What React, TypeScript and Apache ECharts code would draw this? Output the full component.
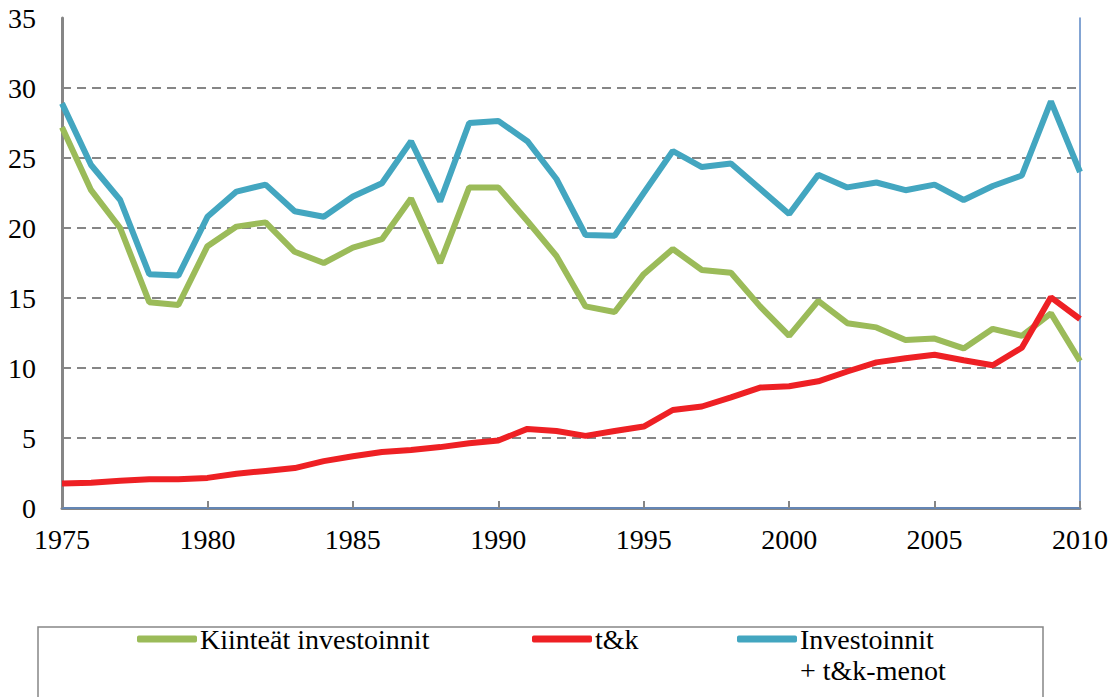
import React, { useEffect, useRef } from "react";
import * as echarts from "echarts";

const years = [
  "1975", "1976", "1977", "1978", "1979", "1980", "1981", "1982", "1983", "1984",
  "1985", "1986", "1987", "1988", "1989", "1990", "1991", "1992", "1993", "1994",
  "1995", "1996", "1997", "1998", "1999", "2000", "2001", "2002", "2003", "2004",
  "2005", "2006", "2007", "2008", "2009", "2010",
];

const kiinteat = [
  27.2, 22.7, 20.0, 14.7, 14.5, 18.7, 20.1, 20.4, 18.3, 17.5,
  18.6, 19.2, 22.1, 17.5, 22.9, 22.9, 20.5, 18.0, 14.4, 14.0,
  16.7, 18.5, 17.0, 16.8, 14.4, 12.3, 14.8, 13.2, 12.9, 12.0,
  12.1, 11.4, 12.8, 12.3, 13.9, 10.5,
];

const tk = [
  1.75, 1.8, 1.95, 2.05, 2.05, 2.15, 2.45, 2.65, 2.85, 3.35,
  3.7, 4.0, 4.15, 4.35, 4.62, 4.82, 5.65, 5.5, 5.15, 5.5,
  5.82, 7.0, 7.25, 7.9, 8.6, 8.7, 9.05, 9.75, 10.4, 10.7,
  10.95, 10.55, 10.2, 11.45, 15.05, 13.5,
];

const yhteensa = [
  28.9, 24.5, 22.0, 16.7, 16.6, 20.8, 22.6, 23.1, 21.2, 20.8,
  22.25, 23.2, 26.2, 21.9, 27.5, 27.65, 26.2, 23.5, 19.5, 19.45,
  22.5, 25.5, 24.35, 24.6, 22.8, 21.0, 23.8, 22.9, 23.25, 22.7,
  23.1, 22.0, 23.0, 23.75, 29.05, 24.0,
];

const names = ["Kiinteät investoinnit", "t&k", "Investoinnit + t&k-menot"];
const legendLine1 = ["Kiinteät investoinnit", "t&k", "Investoinnit"];
const legendLine2 = "+ t&k-menot";
const colors = ["#9BBB59", "#EE2024", "#43A6C0"];

const serif = "Liberation Serif";

export default function App() {
  const ref = useRef<HTMLDivElement>(null);
  useEffect(() => {
    if (!ref.current) return;
    const chart = echarts.init(ref.current, null, { renderer: "svg" });
    const legendBase = {
      orient: "horizontal",
      top: 624,
      padding: 0,
      itemWidth: 60,
      itemHeight: 7,
      icon: "roundRect",
      itemGap: 0,
      textStyle: { fontFamily: serif, fontSize: 28, color: "#000", lineHeight: 30, padding: [0, 0, 0, -2] },
    };
    chart.setOption({
      animation: false,
      backgroundColor: "#fff",
      grid: { left: 62, right: 38, top: 18, bottom: 189, containLabel: false },
      legend: [
        { ...legendBase, left: 137, data: [names[0]], formatter: () => legendLine1[0] },
        { ...legendBase, left: 532, data: [names[1]], formatter: () => legendLine1[1] },
        { ...legendBase, left: 737, data: [names[2]], formatter: () => legendLine1[2] },
      ],
      xAxis: [
        {
          type: "category",
          data: years,
          boundaryGap: false,
          axisLine: { show: true, lineStyle: { color: "#868686", width: 3 } },
          axisTick: {
            show: true,
            inside: true,
            interval: 4,
            length: 7,
            lineStyle: { color: "#868686", width: 2 },
          },
          axisLabel: {
            interval: 4,
            fontFamily: serif,
            fontSize: 28,
            color: "#000",
            margin: 17,
          },
          splitLine: { show: false },
        },
        {
          type: "value",
          position: "top",
          min: 0,
          max: 1,
          axisLine: { show: true, lineStyle: { color: "#5A86C4", width: 1.5 } },
          axisTick: { show: false },
          axisLabel: { show: false },
          splitLine: { show: false },
        },
      ],
      yAxis: [
        {
          type: "value",
          min: 0,
          max: 35,
          interval: 5,
          axisLine: { show: true, lineStyle: { color: "#868686", width: 3 } },
          axisTick: { show: false },
          axisLabel: {
            fontFamily: serif,
            fontSize: 28,
            color: "#000",
            margin: 26,
          },
          splitLine: {
            show: true,
            showMinLine: false,
            showMaxLine: false,
            lineStyle: { color: "#868686", width: 2, type: [9, 6] },
          },
        },
        {
          type: "value",
          position: "right",
          min: 0,
          max: 35,
          axisLine: { show: true, lineStyle: { color: "#5A86C4", width: 1.5 } },
          axisTick: { show: false },
          axisLabel: { show: false },
          splitLine: { show: false },
        },
      ],
      series: [
        {
          name: names[0],
          type: "line",
          data: kiinteat,
          symbol: "none",
          lineStyle: { width: 6, color: colors[0] },
          itemStyle: { color: colors[0] },
          z: 3,
        },
        {
          name: names[1],
          type: "line",
          data: tk,
          symbol: "none",
          lineStyle: { width: 6, color: colors[1] },
          itemStyle: { color: colors[1] },
          z: 4,
        },
        {
          name: names[2],
          type: "line",
          data: yhteensa,
          symbol: "none",
          lineStyle: { width: 6, color: colors[2] },
          itemStyle: { color: colors[2] },
          z: 5,
        },
      ],
      graphic: [
        {
          type: "rect",
          shape: { x: 38, y: 627, width: 1005, height: 120 },
          style: { fill: "none", stroke: "#868686", lineWidth: 1.5 },
          z: -1,
        },
        {
          type: "text",
          x: 800,
          y: 670,
          style: {
            text: legendLine2,
            fontFamily: serif,
            fontSize: 28,
            fill: "#000",
            verticalAlign: "middle",
          },
        },
      ],
    });
    return () => chart.dispose();
  }, []);
  return (
    <div
      ref={ref}
      style={{ position: "fixed", left: 0, top: 0, width: 1118, height: 697 }}
    />
  );
}
